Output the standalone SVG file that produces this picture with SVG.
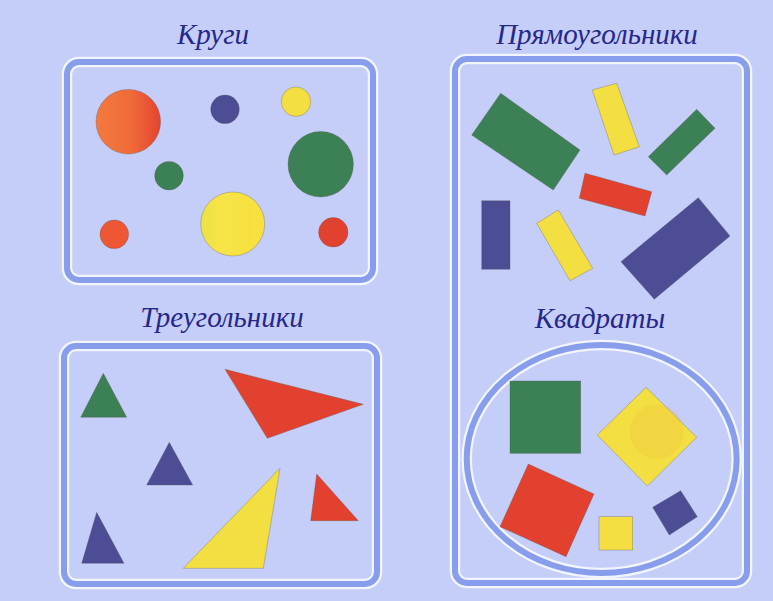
<svg xmlns="http://www.w3.org/2000/svg" width="773" height="601" viewBox="0 0 773 601">
<style>
.glow{fill:none;stroke:#f2f4ff;stroke-width:10.5}
.band{fill:none;stroke:#889deb;stroke-width:6}
.title{font-family:"Liberation Serif",serif;font-style:italic;font-size:29px;fill:#27278a;text-anchor:middle}
.g{fill:#3c8055}
.r{fill:#e2412f}
.y{fill:#f4df42}
.n{fill:#4d4d96}
.sh{stroke:#55504a;stroke-width:0.6;stroke-opacity:0.5}
</style>
<defs>
<linearGradient id="og" x1="0" y1="0" x2="1" y2="0">
<stop offset="0" stop-color="#f47a3e"/>
<stop offset="0.55" stop-color="#ef6a38"/>
<stop offset="1" stop-color="#e4442f"/>
</linearGradient>
<linearGradient id="yg" x1="0" y1="0" x2="1" y2="0">
<stop offset="0" stop-color="#ece244"/>
<stop offset="0.3" stop-color="#f6e446"/>
<stop offset="1" stop-color="#f8e03e"/>
</linearGradient>
</defs>
<rect width="773" height="601" fill="#c5cdf9"/>

<g id="circles">
<text class="title" x="213" y="44">Круги</text>
<rect class="glow" x="67" y="62" width="306" height="218" rx="12"/>
<rect class="band" x="67" y="62" width="306" height="218" rx="12"/>
<circle class="sh" cx="128.3" cy="121.7" r="32.3" fill="url(#og)"/>
<circle class="n sh" cx="225" cy="109.3" r="14.3"/>
<circle class="y sh" cx="296" cy="101.7" r="14.7"/>
<circle class="g sh" cx="320.7" cy="164.3" r="32.7"/>
<circle class="g sh" cx="169" cy="175.7" r="14.3"/>
<circle class="sh" cx="232.7" cy="224" r="32" fill="url(#yg)"/>
<circle class="sh" cx="114.3" cy="234.3" r="14.3" fill="#ee5634"/>
<circle class="r sh" cx="333.3" cy="232.3" r="14.7"/>
</g>

<g id="triangles">
<text class="title" x="222" y="327">Треугольники</text>
<rect class="glow" x="64" y="346" width="313" height="238" rx="12"/>
<rect class="band" x="64" y="346" width="313" height="238" rx="12"/>
<polygon class="g sh" points="103.3,373.3 80.7,417.3 126.7,417.3"/>
<polygon class="r sh" points="225,369.3 363.3,404.3 267.3,438.3"/>
<polygon class="n sh" points="169.3,442.3 146.7,485 192.7,485"/>
<polygon class="y sh" points="280,468.3 183.3,568.3 263.3,568.3"/>
<polygon class="r sh" points="316.7,474 310.7,520.7 358.3,520.7"/>
<polygon class="n sh" points="96.7,512.3 81.7,563.3 124,563.3"/>
</g>

<g id="rectangles">
<text class="title" x="597" y="44">Прямоугольники</text>
<rect class="glow" x="455" y="59" width="292" height="524" rx="12"/>
<rect class="band" x="455" y="59" width="292" height="524" rx="12"/>
<polygon class="g sh" points="500.7,93.3 580,150 553.3,190 471.7,135"/>
<polygon class="y sh" points="592.3,90 616.7,83.3 639.3,146.7 614,155"/>
<polygon class="g sh" points="696.7,109.3 715,128.3 666.7,175 648.3,156.7"/>
<polygon class="r sh" points="585,173.3 651.7,191.7 645,216 579.3,198.3"/>
<polygon class="n sh" points="481.7,200.7 510,200.7 510,269.3 481.7,269.3"/>
<polygon class="y sh" points="536.7,223.3 558.3,210 592.7,268.3 570,280.7"/>
<polygon class="n sh" points="698.3,197.7 730,236 654.3,299.3 621,261.7"/>
</g>

<g id="squares">
<text class="title" x="600" y="328">Квадраты</text>
<ellipse class="glow" cx="601.7" cy="459" rx="135" ry="114"/>
<ellipse class="band" cx="601.7" cy="459" rx="135" ry="114"/>
<rect class="g sh" x="510" y="381" width="70.7" height="72.3" fill="#3a7f5c"/>
<polygon class="y sh" points="646,387.3 696.7,437.3 647.3,486 597.3,435"/>
<circle cx="656.7" cy="431.7" r="27" fill="#e8b840" opacity="0.25"/>
<polygon class="r sh" points="528.3,464 594,494 566,556.7 500,526.7"/>
<rect class="y sh" x="599" y="516.7" width="33.7" height="33.3"/>
<polygon class="n sh" points="680.7,490.7 697.3,516.7 669.3,535 652.7,507.3"/>
</g>
</svg>
